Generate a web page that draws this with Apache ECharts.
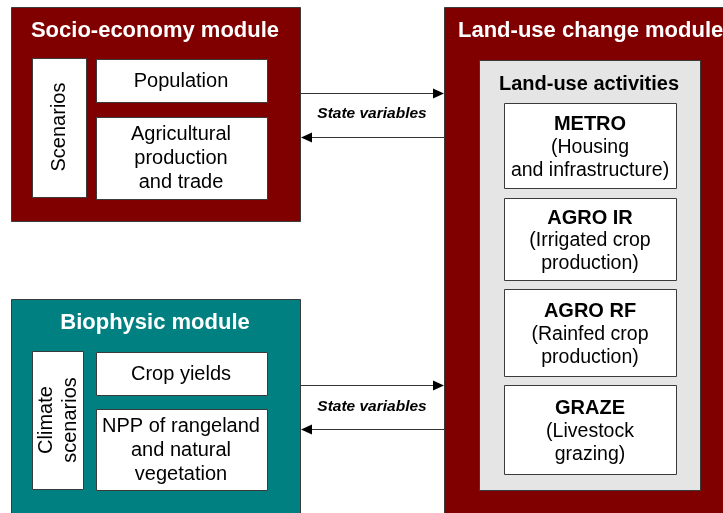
<!DOCTYPE html>
<html>
<head>
<meta charset="utf-8">
<script src="https://cdn.jsdelivr.net/npm/echarts@6/dist/echarts.min.js"></script>
<style>
  html, body { margin: 0; padding: 0; background: #fff; }
  #chart { width: 723px; height: 513px; }
</style>
</head>
<body>
<div id="chart"></div>
<script>
// texts of the diagram
var moduleTitles = ['Socio-economy module', 'Biophysic module', 'Land-use change module'];
var socioScenario = 'Scenarios';
var socioItems = ['Population', 'Agricultural\nproduction\nand trade'];
var bioScenario = 'Climate\nscenarios';
var bioItems = ['Crop yields', 'NPP of rangeland\nand natural\nvegetation'];
var activitiesTitle = 'Land-use activities';
var activityNames = ['METRO', 'AGRO IR', 'AGRO RF', 'GRAZE'];
var activityDescs = ['(Housing\nand infrastructure)', '(Irrigated crop\nproduction)', '(Rainfed crop\nproduction)', '(Livestock\ngrazing)'];
var linkLabel = 'State variables';

var FONT = '"Liberation Sans", Arial, sans-serif';
var RED = '#800000', TEAL = '#008080', GREY = '#e5e5e5', EDGE = '#3a3a3a';

var chart = echarts.init(document.getElementById('chart'));
var els = [];

function rect(x, y, w, h, fill) {
    els.push({
	type: 'rect',
	shape: { x: x + 0.5, y: y + 0.5, width: w, height: h },
	style: { fill: fill, stroke: EDGE, lineWidth: 1 }
    });
}
function label(x, y, text, font, color, extra) {
    var el = {
	type: 'text', x: x, y: y,
	style: { text: text, font: font, fill: color || '#000', align: 'center', verticalAlign: 'middle', lineHeight: 24 }
    };
    if (extra) for (var k in extra) el[k] = extra[k];
    els.push(el);
}
function arrow(x1, x2, y) {
    var dir = x2 > x1 ? 1 : -1;
    els.push({ type: 'line', shape: { x1: x1, y1: y + 0.5, x2: x2 - dir * 9, y2: y + 0.5 }, style: { stroke: '#333', lineWidth: 1 } });
    els.push({ type: 'polygon', shape: { points: [[x2, y + 0.5], [x2 - dir * 11, y - 4.5], [x2 - dir * 11, y + 5.5]] }, style: { fill: '#000' } });
}

// socio-economy module
rect(11, 7, 289, 214, RED);
label(155, 31, moduleTitles[0], 'bold 22px ' + FONT, '#fff');
rect(32, 58, 54, 139, '#fff');
label(59, 127, socioScenario, '20px ' + FONT, '#000', { rotation: Math.PI / 2 });
rect(96, 59, 171, 43, '#fff');
label(181, 81, socioItems[0], '20px ' + FONT);
rect(96, 117, 171, 82, '#fff');
label(181, 158, socioItems[1], '20px ' + FONT);

// biophysic module
rect(11, 299, 289, 230, TEAL);
label(155, 323, moduleTitles[1], 'bold 22px ' + FONT, '#fff');
rect(32, 351, 51, 138, '#fff');
label(58, 420, bioScenario, '20px ' + FONT, '#000', { rotation: Math.PI / 2 });
rect(96, 352, 171, 43, '#fff');
label(181, 374, bioItems[0], '20px ' + FONT);
rect(96, 409, 171, 81, '#fff');
label(181, 450, bioItems[1], '20px ' + FONT);

// land-use change module
rect(444, 7, 320, 530, RED);
els.push({ type: 'text', x: 458, y: 31, style: { text: moduleTitles[2], font: 'bold 22px ' + FONT, fill: '#fff', align: 'left', verticalAlign: 'middle' } });
rect(479, 60, 221, 430, GREY);
label(589, 84, activitiesTitle, 'bold 20px ' + FONT);
var actBoxes = [[103, 85], [198, 82], [289, 87], [385, 89]];
actBoxes.forEach(function (b, i) {
    rect(504, b[0], 172, b[1], '#fff');
    els.push({
	type: 'text', x: 590, y: b[0] + b[1] / 2 + 2,
	style: {
	    text: '{b|' + activityNames[i] + '}\n' + activityDescs[i],
	    font: '19.5px ' + FONT, fill: '#000', align: 'center', verticalAlign: 'middle', lineHeight: 23,
	    rich: { b: { font: 'bold 20px ' + FONT, fill: '#000', lineHeight: 23 } }
	}
    });
});

// links between modules
arrow(301, 444, 93);
arrow(444, 301, 137);
label(372, 114, linkLabel, 'italic bold 15.5px ' + FONT);
arrow(301, 444, 385);
arrow(444, 301, 429);
label(372, 407, linkLabel, 'italic bold 15.5px ' + FONT);

chart.setOption({
    animation: false,
    graphic: { elements: els }
});
</script>
</body>
</html>
